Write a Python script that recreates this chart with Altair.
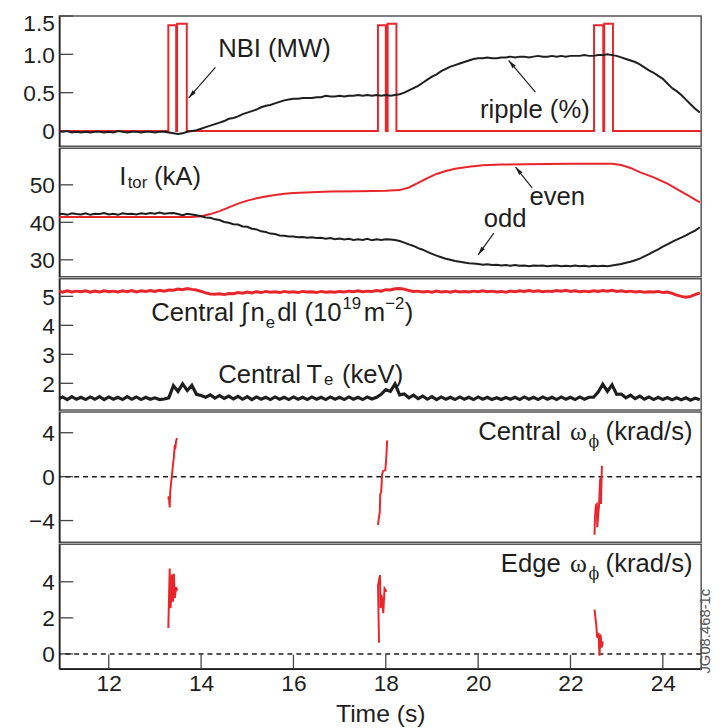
import math
import altair as alt
import pandas as pd

FONT = "Liberation Sans"
GREEK = "Liberation Serif"
PHI = "DejaVu Serif"
RED = "#e8252b"
INK = "#1e1e1e"

# ---------------- data ----------------
T_MIN, T_MAX = 10.93, 24.83
XTICKS = [12, 14, 16, 18, 20, 22, 24]
YDOM = [[-0.2, 1.5], [25.5, 59.74], [1.08, 5.61], [-5.98, 5.89], [-0.82, 6.08]]
YTICKS = [[0, 0.5, 1.0, 1.5], [30, 40, 50], [2, 3, 4, 5], [-4, 0, 4], [0, 2, 4]]

# sampled every 0.1 s from 10.9 s to 24.8 s (one row = 1 s)
ripple = [
    0.00, -0.01, 0.00, -0.02, -0.01, -0.02, -0.01, -0.02, -0.01, -0.01,
    -0.02, -0.01, -0.02, 0.00, -0.01, -0.02, -0.01, -0.01, -0.02, -0.01,
    -0.01, -0.02, -0.01, -0.01, -0.02, -0.03, -0.04, -0.03, -0.01, 0.00,
    0.01, 0.03, 0.05, 0.07, 0.09, 0.11, 0.13, 0.16, 0.17, 0.19,
    0.22, 0.24, 0.26, 0.28, 0.31, 0.33, 0.34, 0.36, 0.38, 0.40,
    0.41, 0.42, 0.42, 0.43, 0.43, 0.43, 0.44, 0.44, 0.46, 0.45,
    0.45, 0.46, 0.45, 0.46, 0.46, 0.47, 0.46, 0.47, 0.46, 0.47,
    0.46, 0.47, 0.46, 0.47, 0.48, 0.50, 0.53, 0.56, 0.59, 0.63,
    0.67, 0.71, 0.74, 0.78, 0.81, 0.84, 0.86, 0.88, 0.90, 0.92,
    0.94, 0.95, 0.95, 0.96, 0.95, 0.95, 0.96, 0.96, 0.97, 0.96,
    0.97, 0.97, 0.96, 0.97, 0.98, 0.97, 0.97, 0.98, 0.97, 0.98,
    0.97, 0.98, 0.98, 0.98, 0.99, 0.98, 0.98, 0.99, 0.99, 1.00,
    0.99, 0.98, 0.96, 0.94, 0.92, 0.90, 0.87, 0.83, 0.79, 0.76,
    0.72, 0.68, 0.62, 0.56, 0.52, 0.47, 0.41, 0.35, 0.29, 0.24,
]
odd = [
    42.1, 42.3, 42.0, 42.4, 42.2, 42.1, 42.4, 42.0, 42.3, 42.2,
    42.5, 42.1, 42.3, 42.0, 42.4, 42.2, 42.3, 42.1, 42.4, 42.2,
    42.5, 42.3, 42.6, 42.3, 42.4, 42.5, 42.2, 41.9, 42.3, 42.1,
    41.9, 41.6, 41.3, 41.2, 40.8, 40.6, 40.1, 39.9, 39.5, 39.4,
    38.9, 38.8, 38.3, 38.1, 37.6, 37.4, 37.0, 36.9, 36.5, 36.4,
    36.2, 36.2, 36.0, 36.1, 35.9, 36.0, 35.8, 35.9, 35.6, 35.8,
    35.5, 35.7, 35.4, 35.6, 35.3, 35.5, 35.3, 35.6, 35.2, 35.5,
    35.3, 35.5, 35.4, 35.3, 35.0, 34.6, 34.1, 33.7, 33.1, 32.7,
    32.1, 31.6, 31.1, 30.7, 30.3, 30.0, 29.7, 29.5, 29.3, 29.1,
    29.0, 28.9, 28.7, 28.8, 28.6, 28.7, 28.5, 28.6, 28.4, 28.6,
    28.4, 28.5, 28.3, 28.5, 28.4, 28.5, 28.3, 28.4, 28.5, 28.3,
    28.4, 28.3, 28.5, 28.3, 28.4, 28.2, 28.4, 28.3, 28.4, 28.3,
    28.5, 28.7, 28.9, 29.2, 29.5, 29.9, 30.3, 30.9, 31.5, 32.2,
    32.8, 33.5, 34.1, 34.8, 35.4, 35.9, 36.5, 37.2, 37.8, 38.7,
]
ne = [
    5.18, 5.14, 5.19, 5.15, 5.18, 5.16, 5.19, 5.14, 5.18, 5.15,
    5.19, 5.16, 5.18, 5.15, 5.19, 5.16, 5.20, 5.15, 5.19, 5.17,
    5.20, 5.17, 5.21, 5.18, 5.22, 5.21, 5.25, 5.23, 5.27, 5.24,
    5.22, 5.17, 5.12, 5.08, 5.07, 5.09, 5.06, 5.10, 5.09, 5.13,
    5.11, 5.15, 5.12, 5.16, 5.13, 5.17, 5.14, 5.16, 5.13, 5.17,
    5.14, 5.16, 5.13, 5.17, 5.15, 5.16, 5.13, 5.17, 5.14, 5.16,
    5.14, 5.17, 5.15, 5.18, 5.16, 5.19, 5.16, 5.18, 5.17, 5.20,
    5.18, 5.23, 5.22, 5.26, 5.27, 5.25, 5.20, 5.17, 5.18, 5.15,
    5.17, 5.14, 5.18, 5.15, 5.17, 5.14, 5.18, 5.15, 5.17, 5.15,
    5.18, 5.16, 5.19, 5.16, 5.18, 5.15, 5.17, 5.14, 5.18, 5.16,
    5.19, 5.17, 5.20, 5.17, 5.19, 5.16, 5.18, 5.17, 5.20, 5.18,
    5.21, 5.17, 5.19, 5.16, 5.18, 5.16, 5.19, 5.17, 5.20, 5.18,
    5.21, 5.17, 5.19, 5.16, 5.18, 5.15, 5.17, 5.14, 5.16, 5.15,
    5.17, 5.13, 5.15, 5.10, 5.04, 5.00, 4.97, 5.00, 5.06, 5.12,
]
te = [
    1.45, 1.53, 1.44, 1.54, 1.45, 1.52, 1.44, 1.53, 1.45, 1.54,
    1.44, 1.53, 1.45, 1.52, 1.44, 1.54, 1.45, 1.53, 1.44, 1.52,
    1.45, 1.50, 1.44, 1.46, 1.50, 1.92, 1.72, 1.98, 1.75, 1.93,
    1.62, 1.58, 1.52, 1.60, 1.49, 1.58, 1.48, 1.56, 1.46, 1.55,
    1.45, 1.54, 1.44, 1.53, 1.45, 1.52, 1.44, 1.53, 1.45, 1.52,
    1.44, 1.53, 1.45, 1.52, 1.44, 1.53, 1.45, 1.52, 1.44, 1.53,
    1.45, 1.52, 1.44, 1.53, 1.45, 1.52, 1.44, 1.53, 1.46, 1.52,
    1.62, 1.78, 1.72, 1.98, 1.60, 1.63, 1.50, 1.59, 1.47, 1.56,
    1.45, 1.54, 1.44, 1.53, 1.45, 1.52, 1.44, 1.53, 1.45, 1.52,
    1.44, 1.53, 1.45, 1.52, 1.44, 1.50, 1.44, 1.51, 1.45, 1.52,
    1.44, 1.53, 1.45, 1.52, 1.44, 1.53, 1.45, 1.52, 1.44, 1.53,
    1.45, 1.52, 1.44, 1.53, 1.45, 1.52, 1.52, 1.70, 1.97, 1.72,
    1.95, 1.62, 1.63, 1.50, 1.59, 1.47, 1.56, 1.45, 1.53, 1.44,
    1.52, 1.44, 1.51, 1.43, 1.50, 1.43, 1.50, 1.42, 1.49, 1.43,
]
t_grid = [round(10.9 + 0.1 * i, 1) for i in range(len(ripple))]

even_t = [10.9, 13.8, 14.0, 14.2, 14.4, 14.6, 14.8, 15.0, 15.2, 15.4,
          15.6, 15.8, 16.0, 16.4, 16.8, 17.4, 18.0, 18.3, 18.5, 18.7,
          18.9, 19.1, 19.3, 19.5, 19.8, 20.1, 20.5, 21.0, 22.0, 22.9,
          23.1, 23.3, 23.5, 23.8, 24.1, 24.4, 24.6, 24.8]
even_v = [41.4, 41.4, 41.6, 42.2, 43.0, 44.0, 45.0, 45.8, 46.4, 46.9,
          47.3, 47.6, 47.8, 48.0, 48.2, 48.3, 48.4, 48.6, 49.3, 50.5,
          51.8, 52.9, 53.7, 54.3, 54.8, 55.2, 55.4, 55.5, 55.6, 55.6,
          55.3, 54.5, 53.4, 52.0, 50.3, 48.2, 46.8, 45.3]

nbi_on = [13.29, 13.48, 17.83, 18.04, 22.51, 22.73]
nbi_off = [13.46, 13.69, 18.00, 18.23, 22.71, 22.92]
nbi_mw = [1.38, 1.40, 1.38, 1.40, 1.38, 1.40]

# central toroidal rotation (krad/s), three NBI blips
wc_t = [[13.29, 13.30, 13.32, 13.33, 13.35, 13.37, 13.39, 13.41, 13.43, 13.44, 13.46, 13.48],
        [17.83, 17.87, 17.88, 17.90, 17.92, 17.94, 17.99, 18.01, 18.03],
        [22.52, 22.53, 22.55, 22.57, 22.58, 22.62, 22.64, 22.65, 22.66, 22.68]]
wc_v = [[-2.1, -1.8, -2.8, -1.5, -0.6, 0.2, 1.0, 1.8, 2.9, 2.5, 3.3, 3.5],
        [-4.4, -3.2, -1.6, -1.4, 0.2, 0.5, 0.6, 1.7, 3.3],
        [-5.3, -3.7, -2.6, -2.5, -4.6, -2.5, -0.4, -0.1, -2.5, 1.0]]
# edge toroidal rotation (krad/s)
we_t = [[13.29, 13.32, 13.34, 13.36, 13.37, 13.39, 13.41, 13.43, 13.46, 13.48],
        [17.853, 17.832, 17.874, 17.887, 17.909, 17.945, 17.973, 18.015],
        [22.52, 22.557, 22.578, 22.606, 22.628, 22.65, 22.677, 22.699]]
we_v = [[1.44, 4.73, 2.54, 3.8, 4.4, 2.9, 4.45, 3.1, 3.7, 3.5],
        [0.62, 3.8, 4.37, 2.54, 3.27, 2.26, 3.63, 3.45],
        [2.45, 1.63, 0.9, 1.17, -0.1, 1.08, 0.35, 0.7]]

# annotations: (panel, text, t, value, font size, font)
ann = [
    (0, "NBI (MW)", 14.37, 1.062, 26, FONT),
    (0, "ripple (%)", 20.04, 0.277, 26, FONT),
    (1, "I", 12.23, 52.11, 26, FONT),
    (1, "tor", 12.41, 50.53, 17, FONT),
    (1, "(kA)", 12.98, 52.11, 26, FONT),
    (1, "even", 21.11, 46.85, 26, FONT),
    (1, "odd", 20.12, 40.79, 26, FONT),
    (2, "Central", 12.92, 4.417, 26, FONT),
    (2, "\u222b", 14.86, 4.417, 26, FONT),
    (2, "n", 15.07, 4.417, 26, FONT),
    (2, "e", 15.40, 4.076, 17, FONT),
    (2, "dl (10", 15.65, 4.417, 26, FONT),
    (2, "19", 17.06, 4.724, 17, FONT),
    (2, "m", 17.52, 4.417, 26, FONT),
    (2, "\u22122", 17.99, 4.724, 17, FONT),
    (2, ")", 18.41, 4.417, 26, FONT),
    (2, "Central", 14.37, 2.269, 26, FONT),
    (2, "T", 16.28, 2.269, 26, FONT),
    (2, "e", 16.66, 2.098, 17, FONT),
    (2, "(keV)", 17.05, 2.269, 26, FONT),
    (3, "Central", 20.00, 4.092, 26, FONT),
    (3, "\u03c9", 21.99, 4.092, 26, GREEK),
    (3, "\u03d5", 22.39, 3.193, 16, PHI),
    (3, "(krad/s)", 22.76, 4.092, 26, FONT),
    (4, "Edge", 20.49, 4.984, 26, FONT),
    (4, "\u03c9", 21.99, 4.984, 26, GREEK),
    (4, "\u03d5", 22.39, 4.436, 16, PHI),
    (4, "(krad/s)", 22.76, 4.984, 26, FONT),
]
# arrows: (panel, t_from, v_from, t_to, v_to)
arrows = [
    (0, 14.31, 0.830, 13.73, 0.431),
    (0, 21.24, 0.508, 20.66, 0.920),
    (1, 21.17, 49.21, 20.81, 54.74),
    (1, 20.34, 37.11, 20.00, 31.32),
]

# ---------------- layout ----------------
W = 650
H = [132, 130, 133, 132, 126]
HEAD = "M0,0L-0.45,1.8L0.45,1.8Z"


def xenc(field="t", bottom=False):
    if bottom:
        ax = alt.Axis(values=XTICKS, ticks=False, tickSize=0, grid=False, title="Time (s)",
                      labelPadding=4, titlePadding=6, domainColor=INK, domainWidth=1.5)
    else:
        ax = None
    return alt.X(f"{field}:Q", scale=alt.Scale(domain=[T_MIN, T_MAX], nice=False, zero=False), axis=ax)


def yenc(i, field="y"):
    expr = "datum.value == 0 ? '0' : format(datum.value, '.1f')" if i == 0 else "replace(datum.label, '-', '\u2212')"
    if i == 0:
        loff = {"condition": {"test": "datum.value == 1.5", "value": 7.5}, "value": 1}
    else:
        loff = 1
    ax = alt.Axis(values=YTICKS[i], ticks=False, tickSize=0, grid=False, title=None,
                  labelExpr=expr, labelPadding=5, labelOffset=loff, minExtent=51, maxExtent=51,
                  domainColor=INK, domainWidth=1.5)
    return alt.Y(f"{field}:Q", scale=alt.Scale(domain=YDOM[i], nice=False, zero=False), axis=ax)


def line(df, i, color, width=2, bottom=False, detail=False):
    enc = dict(x=xenc(bottom=bottom), y=yenc(i), order="k:Q")
    if detail:
        enc["detail"] = "g:N"
    return alt.Chart(df).mark_line(color=color, strokeWidth=width, clip=True,
                                   strokeJoin="miter").encode(**enc)


def yticks_layer(i):
    df = pd.DataFrame({"y": YTICKS[i]})
    return alt.Chart(df).mark_rule(color="#444", strokeWidth=1.3).encode(
        y=yenc(i), x=alt.value(0), x2=alt.value(14))


def ann_layers(i, bottom=False):
    rows = [a for a in ann if a[0] == i]
    layers = []
    for font in (FONT, GREEK, PHI):
        sub = [r for r in rows if r[5] == font]
        if not sub:
            continue
        df = pd.DataFrame({"text": [r[1] for r in sub], "t": [r[2] for r in sub],
                           "y": [r[3] for r in sub], "fs": [r[4] for r in sub]})
        layers.append(alt.Chart(df).mark_text(align="left", baseline="middle", font=font,
                                              color=INK).encode(
            x=xenc(bottom=bottom), y=yenc(i), text="text:N",
            size=alt.Size("fs:Q", scale=None)))
    arr = [a for a in arrows if a[0] == i]
    if arr:
        rng = YDOM[i][1] - YDOM[i][0]
        ang = []
        for a in arr:
            dx = (a[3] - a[1]) * W / (T_MAX - T_MIN)
            dy = -(a[4] - a[2]) * H[i] / rng
            ang.append(math.degrees(math.atan2(dx, -dy)) % 360)
        df = pd.DataFrame({"t": [a[1] for a in arr], "y": [a[2] for a in arr],
                           "t2": [a[3] for a in arr], "y2": [a[4] for a in arr], "ang": ang})
        layers.append(alt.Chart(df).mark_rule(color=INK, strokeWidth=1.2).encode(
            x=xenc(bottom=bottom), y=yenc(i), x2="t2:Q", y2="y2:Q"))
        dfh = pd.DataFrame({"t": df["t2"], "y": df["y2"], "ang": df["ang"]})
        layers.append(alt.Chart(dfh).mark_point(shape=HEAD, filled=True, size=90, color=INK,
                                                opacity=1, strokeWidth=0).encode(
            x=xenc(bottom=bottom), y=yenc(i), angle=alt.Angle("ang:Q", scale=None)))
    return layers


def series(ts, vs):
    return pd.DataFrame({"t": ts, "y": vs, "k": list(range(len(ts)))})


# panel 1: NBI power and ripple
nb_t, nb_v = [10.9], [0.0]
for a, b, p in zip(nbi_on, nbi_off, nbi_mw):
    nb_t += [a, a, b, b]
    nb_v += [0.0, p, p, 0.0]
nb_t.append(24.9)
nb_v.append(0.0)
p1 = alt.layer(
    yticks_layer(0),
    line(series(nb_t, nb_v), 0, RED, 2),
    line(series(t_grid, ripple), 0, INK, 2),
    *ann_layers(0),
).properties(width=W, height=H[0])

# panel 2: toroidal current
p2 = alt.layer(
    yticks_layer(1),
    line(series(even_t, even_v), 1, RED, 2),
    line(series(t_grid, odd), 1, INK, 2),
    *ann_layers(1),
).properties(width=W, height=H[1])

# panel 3: density and temperature
p3 = alt.layer(
    yticks_layer(2),
    line(series(t_grid, ne), 2, RED, 3),
    line(series(t_grid, te), 2, INK, 3.2),
    *ann_layers(2),
).properties(width=W, height=H[2])


def blips(ts, vs):
    rows = []
    for g, (tt, vv) in enumerate(zip(ts, vs)):
        for k, (a, b) in enumerate(zip(tt, vv)):
            rows.append({"t": a, "y": b, "k": k, "g": g})
    return pd.DataFrame(rows)


zero = pd.DataFrame({"y": [0]})
p4 = alt.layer(
    yticks_layer(3),
    alt.Chart(zero).mark_rule(color=INK, strokeWidth=1.5, strokeDash=[5, 4]).encode(y=yenc(3)),
    line(blips(wc_t, wc_v), 3, RED, 2, detail=True),
    *ann_layers(3),
).properties(width=W, height=H[3])

xt = alt.Chart(pd.DataFrame({"t": XTICKS})).mark_rule(color="#444", strokeWidth=1.3).encode(
    x=xenc(bottom=True), y=alt.value(H[4]), y2=alt.value(H[4] - 14))
tag = alt.Chart(pd.DataFrame({"text": ["JG08.468-1c"]})).mark_text(
    angle=270, font=FONT, fontSize=15, color="#555", align="center", baseline="middle").encode(
    text="text:N", x=alt.value(W + 4), y=alt.value(88))
p5 = alt.layer(
    yticks_layer(4),
    xt,
    alt.Chart(zero).mark_rule(color=INK, strokeWidth=1.5, strokeDash=[5, 4]).encode(y=yenc(4)),
    line(blips(we_t, we_v), 4, RED, 2, bottom=True, detail=True),
    *ann_layers(4, bottom=True),
    tag,
).properties(width=W, height=H[4])

chart = alt.vconcat(p1, p2, p3, p4, p5, spacing=0).properties(
    padding={"left": 0, "top": -1.5, "right": 0, "bottom": 0}
).configure_view(stroke="#555", strokeWidth=1.5).configure_axis(
    labelFont=FONT, labelFontSize=23, labelColor=INK,
    titleFont=FONT, titleFontSize=25, titleFontWeight="normal", titleColor=INK,
).configure_concat(spacing=0)

chart.save("out.html", embed_options={"renderer": "svg", "actions": False})
